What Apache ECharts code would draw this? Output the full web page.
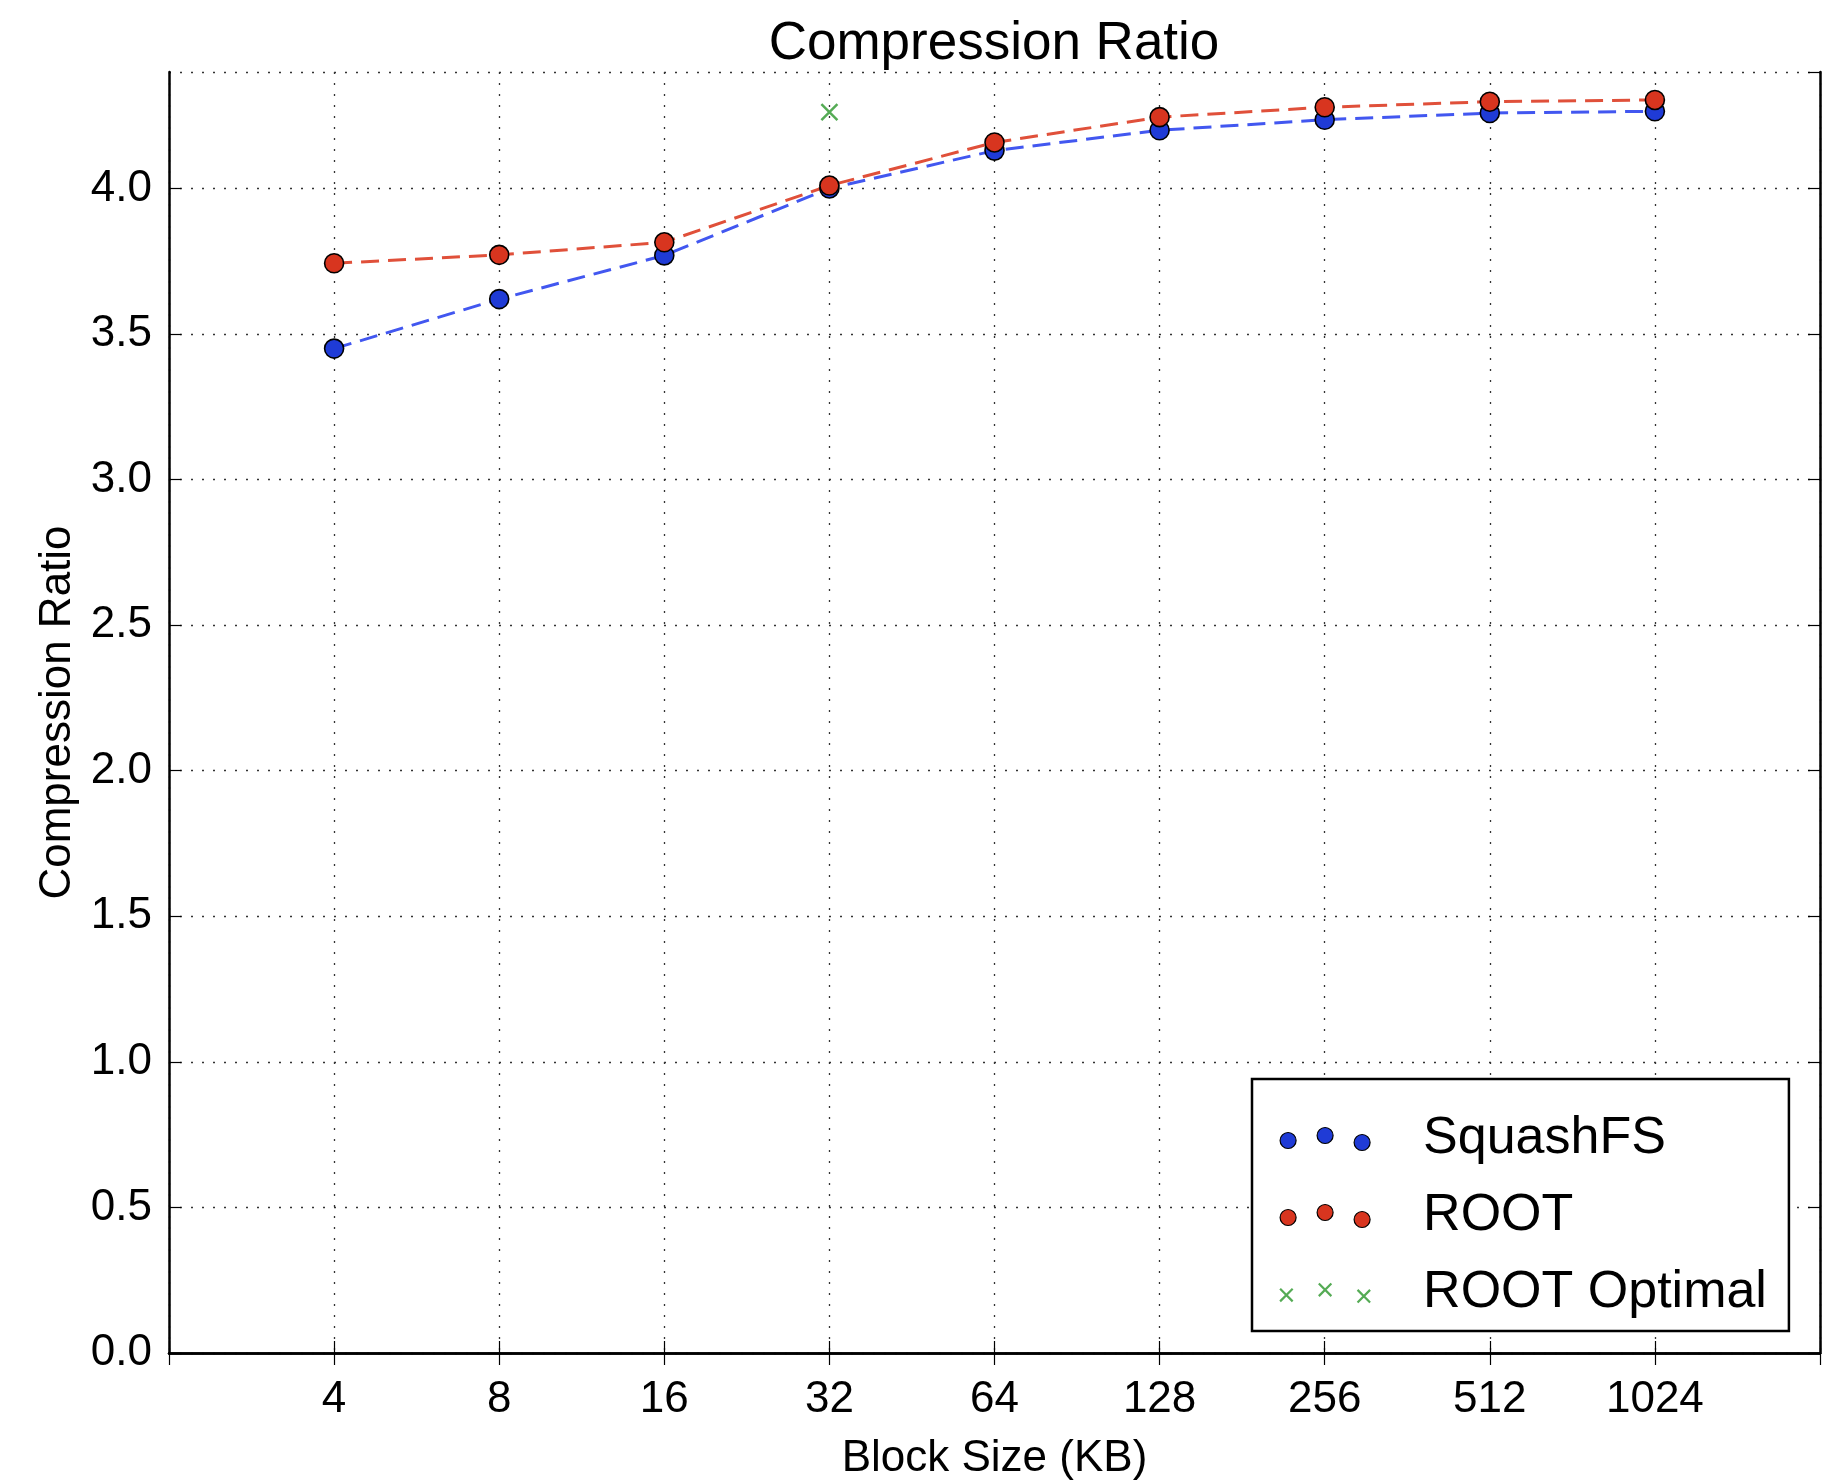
<!DOCTYPE html>
<html>
<head>
<meta charset="utf-8">
<script src="https://cdn.jsdelivr.net/npm/echarts@6/dist/echarts.min.js"></script>
<style>
  html, body { margin: 0; padding: 0; background: #fff; }
  #main { width: 1837px; height: 1480px; }
</style>
</head>
<body>
<div id="main"></div>
<script>
// compression ratio vs block size

const blockSizes = [4, 8, 16, 32, 64, 128, 256, 512, 1024];
const squashfsRatio = [3.45, 3.62, 3.77, 4.00, 4.13, 4.20, 4.236, 4.259, 4.265];
const rootRatio = [3.743, 3.772, 3.815, 4.01, 4.158, 4.245, 4.279, 4.298, 4.304];
const optimalSize = [32];
const optimalRatio = [4.262];
const yTicks = [0, 0.5, 1, 1.5, 2, 2.5, 3, 3.5, 4];

const font = 'Liberation Sans, Arial, sans-serif';
const blue = '#1f3bd6';
const red = '#d8351f';
const green = '#2a962a';

const circles3 = 'path://M0,13 A8,8 0 1,1 16,13 A8,8 0 1,1 0,13 Z M37,8 A8,8 0 1,1 53,8 A8,8 0 1,1 37,8 Z M74,15 A8,8 0 1,1 90,15 A8,8 0 1,1 74,15 Z';
const crosses3 = 'path://M2,11 L14,23 M14,11 L2,23 M39,6 L51,18 M51,6 L39,18 M76,12 L88,24 M88,12 L76,24';

function pairs(xs, ys) {
    return xs.map(function (x, i) { return [x, ys[i]]; });
}

const chartDom = document.getElementById('main');
let chart = echarts.init(chartDom);

const gridLine = {
    show: true,
    lineStyle: { color: '#333', width: 1.3, type: [2, 9] }
};

let option = {
    animation: false,
    backgroundColor: '#fff',
    title: {
        text: 'Compression Ratio',
        left: 994,
        top: 18,
        padding: 0,
        textAlign: 'center',
        textStyle: { fontFamily: font, fontSize: 53, fontWeight: 'normal', color: '#000' }
    },
    grid: { left: 169, right: 17, top: 72, bottom: 127, outerBoundsMode: 'none', containLabel: false },
    legend: {
        orient: 'vertical',
        left: 1252,
        top: 1079,
        padding: [34, 22, 12, 27],
        itemGap: 25,
        itemWidth: 90,
        itemHeight: 23,
        selectedMode: false,
        backgroundColor: '#fff',
        borderColor: '#000',
        borderWidth: 2.5,
        borderRadius: 0,
        textStyle: { fontFamily: font, fontSize: 52, color: '#000', padding: [0, 0, 0, 48] },
        data: [
            { name: 'SquashFS', icon: circles3, itemStyle: { color: blue, borderColor: '#000', borderWidth: 1.2 } },
            { name: 'ROOT', icon: circles3, itemStyle: { color: red, borderColor: '#000', borderWidth: 1.2 } },
            { name: 'ROOT Optimal', icon: crosses3, itemStyle: { color: 'rgba(0,0,0,0)', borderColor: green, borderWidth: 2.2 } }
        ]
    },
    xAxis: [
        {
            type: 'log',
            logBase: 2,
            min: 2,
            max: 2048,
            interval: 1,
            splitNumber: 10,
            name: 'Block Size (KB)',
            nameLocation: 'middle',
            nameGap: 84,
            nameTextStyle: { fontFamily: font, fontSize: 44, color: '#000' },
            axisLine: { show: true, lineStyle: { color: '#000', width: 2.5 } },
            axisTick: { show: true, inside: true, length: 12, lineStyle: { color: '#000', width: 1.2 } },
            axisLabel: {
                show: true,
                margin: 25,
                fontFamily: font,
                fontSize: 44,
                color: '#000',
                formatter: function (v) {
                    return blockSizes.indexOf(Math.round(v)) >= 0 ? String(Math.round(v)) : '';
                }
            },
            splitLine: gridLine
        },
        {
            type: 'log',
            logBase: 2,
            min: 2,
            max: 2048,
            interval: 1,
            splitNumber: 10,
            position: 'top',
            axisLine: { show: true, lineStyle: { color: '#000', width: 2.5 } },
            axisTick: { show: true, inside: true, length: 12, lineStyle: { color: '#000', width: 1.2 } },
            axisLabel: { show: false },
            splitLine: { show: false }
        }
    ],
    yAxis: [
        {
            type: 'value',
            min: 0,
            max: 4.4,
            interval: 0.5,
            name: 'Compression Ratio',
            nameLocation: 'middle',
            nameGap: 85,
            nameTextStyle: { fontFamily: font, fontSize: 44, color: '#000' },
            axisLine: { show: true, lineStyle: { color: '#000', width: 2.5 } },
            axisTick: { show: true, inside: true, length: 12, lineStyle: { color: '#000', width: 1.2 } },
            axisLabel: {
                margin: 17,
                fontFamily: font,
                fontSize: 44,
                color: '#000',
                showMaxLabel: false,
                formatter: function (v) {
                    return yTicks.indexOf(v) >= 0 ? v.toFixed(1) : '';
                }
            },
            splitLine: gridLine
        },
        {
            type: 'value',
            min: 0,
            max: 4.4,
            interval: 0.5,
            position: 'right',
            axisLine: { show: true, lineStyle: { color: '#000', width: 2.5 } },
            axisTick: { show: true, inside: true, length: 12, lineStyle: { color: '#000', width: 1.2 } },
            axisLabel: { show: false },
            splitLine: { show: false }
        }
    ],
    series: [
        {
            name: 'SquashFS',
            type: 'line',
            data: pairs(blockSizes, squashfsRatio),
            symbol: 'circle',
            symbolSize: 19,
            itemStyle: { color: blue, borderColor: '#000', borderWidth: 1.6 },
            lineStyle: { color: '#4257f0', width: 3, type: [18, 9] }
        },
        {
            name: 'ROOT',
            type: 'line',
            data: pairs(blockSizes, rootRatio),
            symbol: 'circle',
            symbolSize: 19,
            itemStyle: { color: red, borderColor: '#000', borderWidth: 1.6 },
            lineStyle: { color: '#e0503a', width: 3, type: [18, 9] }
        },
        {
            name: 'ROOT Optimal',
            type: 'scatter',
            data: pairs(optimalSize, optimalRatio),
            symbol: 'path://M0,0 L10,10 M10,0 L0,10',
            symbolSize: 16,
            itemStyle: { color: 'rgba(0,0,0,0)', borderColor: green, borderWidth: 2.5 }
        }
    ]
};

option && chart.setOption(option);
</script>
</body>
</html>
